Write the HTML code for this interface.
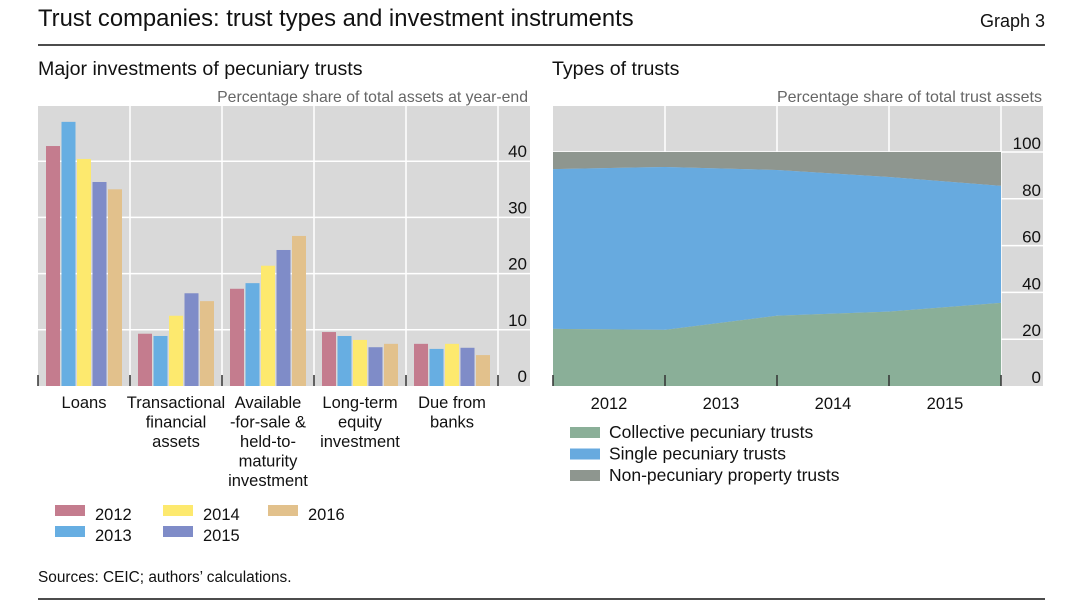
<!DOCTYPE html>
<html><head><meta charset="utf-8"><style>
body{margin:0;background:#fff;font-family:"Liberation Sans",sans-serif;}
svg text{font-family:"Liberation Sans",sans-serif;}
</style></head><body>
<svg id="s" width="1080" height="609" xmlns="http://www.w3.org/2000/svg">
<text x="38" y="26" font-size="23.8" fill="#111">Trust companies: trust types and investment instruments</text>
<text x="1045" y="27" font-size="18" fill="#111" text-anchor="end">Graph 3</text>
<line x1="38" y1="45" x2="1045" y2="45" stroke="#111" stroke-width="1.5"/>
<text x="38" y="75" font-size="19.6" fill="#111">Major investments of pecuniary trusts</text>
<text x="528" y="102" font-size="15.8" fill="#666" text-anchor="end">Percentage share of total assets at year-end</text>
<text x="552" y="75" font-size="19.6" fill="#111">Types of trusts</text>
<text x="1042" y="102" font-size="16" fill="#666" text-anchor="end">Percentage share of total trust assets</text>
<rect x="38" y="106" width="492" height="280" fill="#d9d9d9"/>
<rect x="553" y="106" width="490" height="280" fill="#d9d9d9"/>
<g id="left"></g><g id="right"></g>
<text x="38" y="582" font-size="15.4" fill="#111">Sources: CEIC; authors’ calculations.</text>
<line x1="38" y1="599" x2="1045" y2="599" stroke="#111" stroke-width="1.5"/>
</svg>
<script>
const NS="http://www.w3.org/2000/svg";
const categories=[["Loans"],["Transactional","financial","assets"],["Available","-for-sale &","held-to-","maturity","investment"],["Long-term","equity","investment"],["Due from","banks"]];
const years=["2012","2013","2014","2015","2016"];
const v2012=[42.7,9.3,17.3,9.6,7.5];
const v2013=[47.0,8.9,18.3,8.9,6.6];
const v2014=[40.4,12.5,21.4,8.2,7.5];
const v2015=[36.3,16.5,24.2,6.9,6.8];
const v2016=[35.0,15.1,26.7,7.5,5.5];
const leftTicks=[0,10,20,30,40];
const periods=["2012","2013","2014","2015"];
const collective=[24.4,24.0,30.0,31.8,35.5];
const single=[68.3,69.6,62.3,57.5,50.0];
const nonPecuniary=[7.3,6.4,7.7,10.7,14.5];
const rightTicks=[0,20,40,60,80,100];
const colors=["#c47c8e","#67aee2","#fde96e","#7f8cc8","#e2c18c"];
function mk(p,tag,a){const e=document.createElementNS(NS,tag);for(const k in a)e.setAttribute(k,a[k]);p.appendChild(e);return e;}
const L=document.getElementById('left');
const ly=v=>386-v*5.62, cw=92, cx0=38;
leftTicks.forEach(t=>{
 if(t>0){const g=mk(L,'line',{x1:38,x2:530,y1:ly(t),y2:ly(t),stroke:'#fff','stroke-width':1.5});
 }
 const tx=mk(L,'text',{x:527,y:ly(t)-4,'font-size':17,fill:'#111','text-anchor':'end'});tx.textContent=t;
 
});
for(let i=1;i<=5;i++){const l=mk(L,'line',{x1:cx0+i*cw,x2:cx0+i*cw,y1:106,y2:386,stroke:'#fff','stroke-width':1.5});
 }
const series=[v2012,v2013,v2014,v2015,v2016];
categories.forEach((c,i)=>{
 series.forEach((s,j)=>{
  const r=mk(L,'rect',{x:cx0+i*cw+8+j*15.5,y:ly(s[i]),width:14,height:386-ly(s[i]),fill:colors[j]});
  
 });
 c.forEach((line,k)=>{const t=mk(L,'text',{x:cx0+i*cw+46,y:408+k*19.5,'font-size':16.5,fill:'#111','text-anchor':'middle'});t.textContent=line;
 });
});
for(let i=0;i<=5;i++){const l=mk(L,'line',{x1:cx0+i*cw,x2:cx0+i*cw,y1:375,y2:386,stroke:'#333','stroke-width':1.5});
 }
const lpos=[[55,516],[55,537],[163,516],[163,537],[268,516]];
years.forEach((y,j)=>{const r=mk(L,'rect',{x:lpos[j][0],y:lpos[j][1]-11,width:30,height:11,fill:colors[j]});
 
 const t=mk(L,'text',{x:lpos[j][0]+40,y:lpos[j][1]+4,'font-size':16.5,fill:'#111'});t.textContent=y;
 });
const R=document.getElementById('right');
const rx=i=>553+i*112, ry=v=>386-v*2.34;
rightTicks.forEach(t=>{
 if(t>0){const g=mk(R,'line',{x1:553,x2:1043,y1:ry(t),y2:ry(t),stroke:'#fff','stroke-width':1.5});
 }
});
for(let i=1;i<=4;i++){const l=mk(R,'line',{x1:rx(i),x2:rx(i),y1:106,y2:386,stroke:'#fff','stroke-width':1.5});
 }
function area(lo,hi,fill,name){
 let d='M'+rx(0)+','+ry(hi[0]);
 for(let i=1;i<hi.length;i++)d+=' L'+rx(i)+','+ry(hi[i]);
 for(let i=lo.length-1;i>=0;i--)d+=' L'+rx(i)+','+ry(lo[i]);
 const p=mk(R,'path',{d:d+'Z',fill:fill});
}
const zero=collective.map(()=>0);
const c1=collective.slice(), c2=collective.map((v,i)=>v+single[i]), c3=c2.map((v,i)=>v+nonPecuniary[i]);
area(c2,c3,'#8e968f','area-non-pecuniary');
area(c1,c2,'#67aadf','area-single-pecuniary');
area(zero,c1,'#8aaf98','area-collective-pecuniary');
rightTicks.forEach(t=>{const tx=mk(R,'text',{x:1041,y:ry(t)-3,'font-size':17,fill:'#111','text-anchor':'end'});tx.textContent=t;
 });
for(let i=0;i<=4;i++){const l=mk(R,'line',{x1:rx(i),x2:rx(i),y1:375,y2:386,stroke:'#333','stroke-width':1.5});
 }
periods.forEach((p,i)=>{const t=mk(R,'text',{x:rx(i)+56,y:409,'font-size':16.5,fill:'#111','text-anchor':'middle'});t.textContent=p;
 });
const rl=[["Collective pecuniary trusts","#8aaf98"],["Single pecuniary trusts","#67aadf"],["Non-pecuniary property trusts","#8e968f"]];
rl.forEach((e,i)=>{const r=mk(R,'rect',{x:570,y:427+i*21.5,width:30,height:11,fill:e[1]});
 
 const t=mk(R,'text',{x:609,y:438+i*21.5,'font-size':17.5,fill:'#111'});t.textContent=e[0];
 });
</script>
</body></html>
